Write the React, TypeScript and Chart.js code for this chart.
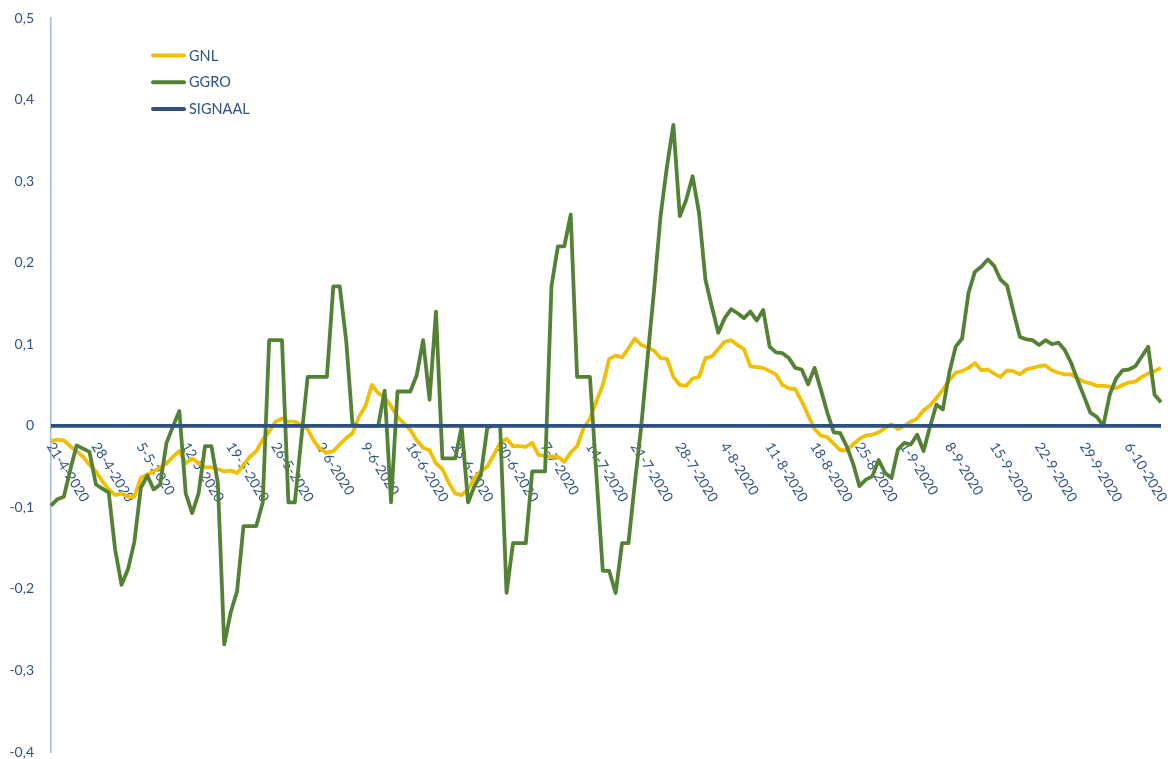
import React, { useEffect, useRef } from "react";
import { Chart, registerables } from "chart.js";

Chart.register(...registerables);

// ---- Data ----
const START_DATE = [2020, 4, 21]; // year, month, day
const DAY_COUNT = 174;

function buildDates(): string[] {
  const out: string[] = [];
  const base = Date.UTC(START_DATE[0], START_DATE[1] - 1, START_DATE[2]);
  for (let i = 0; i < DAY_COUNT; i++) {
    const d = new Date(base + i * 86400000);
    out.push(`${d.getUTCDate()}-${d.getUTCMonth() + 1}-${d.getUTCFullYear()}`);
  }
  return out;
}
const DATES = buildDates();

const TICK_LABELS = [
  "21-4-2020", "28-4-2020", "5-5-2020", "12-5-2020", "19-5-2020", "26-5-2020",
  "2-6-2020", "9-6-2020", "16-6-2020", "23-6-2020", "30-6-2020", "7-7-2020",
  "14-7-2020", "21-7-2020", "28-7-2020", "4-8-2020", "11-8-2020", "18-8-2020",
  "25-8-2020", "1-9-2020", "8-9-2020", "15-9-2020", "22-9-2020", "29-9-2020",
  "6-10-2020",
];

const GNL = [
  -0.019, -0.017, -0.018, -0.025, -0.031, -0.038, -0.048, -0.056, -0.068, -0.078,
  -0.085, -0.083, -0.087, -0.087, -0.064, -0.060, -0.056, -0.051, -0.046, -0.038,
  -0.031, -0.046, -0.040, -0.046, -0.051, -0.051, -0.053, -0.056, -0.055, -0.058,
  -0.048, -0.038, -0.031, -0.017, -0.007, 0.005, 0.009, 0.005, 0.005, 0.001,
  -0.004, -0.019, -0.029, -0.033, -0.031, -0.023, -0.015, -0.009, 0.011, 0.024,
  0.050, 0.040, 0.035, 0.024, 0.011, 0.003, -0.005, -0.018, -0.027, -0.030,
  -0.046, -0.053, -0.070, -0.083, -0.085, -0.078, -0.064, -0.056, -0.050, -0.036,
  -0.021, -0.016, -0.025, -0.025, -0.026, -0.021, -0.036, -0.037, -0.038, -0.038,
  -0.044, -0.033, -0.025, -0.003, 0.009, 0.030, 0.050, 0.082, 0.086, 0.084,
  0.095, 0.107, 0.099, 0.096, 0.092, 0.083, 0.082, 0.060, 0.050, 0.049,
  0.058, 0.060, 0.083, 0.085, 0.094, 0.103, 0.105, 0.099, 0.094, 0.073,
  0.072, 0.071, 0.067, 0.063, 0.050, 0.046, 0.045, 0.030, 0.013, -0.004,
  -0.012, -0.014, -0.022, -0.030, -0.030, -0.023, -0.016, -0.012, -0.011, -0.008,
  -0.003, 0.002, -0.004, 0.000, 0.005, 0.009, 0.019, 0.025, 0.034, 0.044,
  0.056, 0.065, 0.067, 0.071, 0.077, 0.068, 0.069, 0.064, 0.060, 0.068,
  0.067, 0.063, 0.069, 0.071, 0.073, 0.074, 0.068, 0.065, 0.063, 0.063,
  0.058, 0.054, 0.052, 0.049, 0.049, 0.048, 0.046, 0.050, 0.053, 0.054,
  0.060, 0.064, 0.067, 0.071,
];

const GGRO = [
  -0.098, -0.090, -0.087, -0.054, -0.024, -0.028, -0.032, -0.072, -0.077, -0.082,
  -0.152, -0.195, -0.176, -0.142, -0.076, -0.061, -0.078, -0.072, -0.021, -0.001,
  0.018, -0.083, -0.107, -0.083, -0.025, -0.025, -0.070, -0.268, -0.229, -0.203,
  -0.123, -0.123, -0.123, -0.094, 0.105, 0.105, 0.105, -0.094, -0.094, -0.017,
  0.060, 0.060, 0.060, 0.060, 0.171, 0.171, 0.105, 0.001, 0.000, 0.000,
  0.000, 0.000, 0.043, -0.094, 0.042, 0.042, 0.042, 0.062, 0.105, 0.032,
  0.140, -0.040, -0.040, -0.040, -0.001, -0.094, -0.074, -0.060, -0.002, 0.000,
  0.000, -0.205, -0.144, -0.144, -0.144, -0.056, -0.056, -0.056, 0.171, 0.220,
  0.220, 0.259, 0.060, 0.060, 0.060, -0.060, -0.178, -0.178, -0.205, -0.144,
  -0.144, -0.070, 0.000, 0.085, 0.167, 0.257, 0.318, 0.369, 0.257, 0.277,
  0.306, 0.261, 0.179, 0.146, 0.114, 0.132, 0.143, 0.138, 0.132, 0.140,
  0.129, 0.142, 0.097, 0.090, 0.089, 0.083, 0.071, 0.069, 0.051, 0.071,
  0.044, 0.016, -0.008, -0.009, -0.025, -0.046, -0.074, -0.066, -0.062, -0.042,
  -0.058, -0.064, -0.029, -0.021, -0.023, -0.011, -0.031, -0.001, 0.026, 0.020,
  0.065, 0.097, 0.107, 0.163, 0.189, 0.195, 0.204, 0.196, 0.179, 0.172,
  0.140, 0.109, 0.106, 0.105, 0.099, 0.105, 0.100, 0.102, 0.093, 0.077,
  0.056, 0.036, 0.016, 0.011, 0.000, 0.038, 0.058, 0.068, 0.069, 0.073,
  0.085, 0.097, 0.038, 0.029,
];

const SIGNAAL_LEVEL = 0;
const SIGNAAL = DATES.map(() => SIGNAAL_LEVEL);

const SERIES_NAMES = ["GNL", "GGRO", "SIGNAAL"];
const Y_MIN = -0.4;
const Y_MAX = 0.5;
const Y_STEP = 0.1;

// ---- Style ----
const COLORS = {
  gnl: "#F0BF00",
  ggro: "#548235",
  signaal: "#2E5080",
  text: "#2F5282",
  axis: "#A6B8CF",
};
const FONT = "Lato, 'Open Sans', sans-serif";
const LABEL_ANGLE = (58 * Math.PI) / 180;

function fmtTick(v: number): string {
  const r = Math.round(v * 10) / 10;
  if (r === 0) return "0";
  return String(r).replace(".", ",");
}

const xLabelPlugin = {
  id: "xLabelPlugin",
  beforeDatasetsDraw(chart: any) {
    const { ctx, scales } = chart;
    const xs = scales.x;
    const y0 = scales.y.getPixelForValue(0);
    ctx.save();
    ctx.font = `14px ${FONT}`;
    ctx.fillStyle = COLORS.text;
    ctx.textAlign = "left";
    ctx.textBaseline = "middle";
    TICK_LABELS.forEach((lbl) => {
      const idx = DATES.indexOf(lbl);
      if (idx < 0) return;
      const px = xs.getPixelForValue(idx);
      ctx.save();
      ctx.translate(px - 1, y0 + 18);
      ctx.rotate(LABEL_ANGLE);
      ctx.fillText(lbl, 0, 0);
      ctx.restore();
    });
    ctx.restore();
  },
};

const legendPlugin = {
  id: "legendPlugin",
  afterDraw(chart: any) {
    const { ctx } = chart;
    const colors = [COLORS.gnl, COLORS.ggro, COLORS.signaal];
    ctx.save();
    ctx.font = `14.5px ${FONT}`;
    ctx.textAlign = "left";
    ctx.textBaseline = "middle";
    SERIES_NAMES.forEach((name, i) => {
      const y = 55.5 + i * 26.8;
      ctx.strokeStyle = colors[i];
      ctx.lineWidth = 4;
      ctx.lineCap = "round";
      ctx.beginPath();
      ctx.moveTo(153, y);
      ctx.lineTo(184, y);
      ctx.stroke();
      ctx.fillStyle = COLORS.text;
      ctx.fillText(name, 189, y + 0.5);
    });
    ctx.restore();
  },
};

export default function App() {
  const canvasRef = useRef<HTMLCanvasElement | null>(null);

  useEffect(() => {
    if (!canvasRef.current) return;
    const chart = new Chart(canvasRef.current, {
      type: "line",
      data: {
        labels: DATES,
        datasets: [
          {
            label: SERIES_NAMES[0],
            data: GNL,
            borderColor: COLORS.gnl,
            borderWidth: 3.8,
            order: 2,
          },
          {
            label: SERIES_NAMES[1],
            data: GGRO,
            borderColor: COLORS.ggro,
            borderWidth: 3.8,
            order: 1,
          },
          {
            label: SERIES_NAMES[2],
            data: SIGNAAL,
            borderColor: COLORS.signaal,
            borderWidth: 3.8,
            order: 0,
          },
        ],
      },
      options: {
        animation: false,
        responsive: false,
        maintainAspectRatio: false,
        layout: { padding: { left: 0, right: 7, top: 18, bottom: 7 } },
        plugins: {
          legend: { display: false },
          tooltip: { enabled: false },
        },
        elements: {
          point: { radius: 0, hoverRadius: 0 },
          line: { tension: 0, borderJoinStyle: "round", borderCapStyle: "butt", fill: false },
        },
        scales: {
          x: { type: "category", display: false, offset: false },
          y: {
            min: Y_MIN,
            max: Y_MAX,
            ticks: {
              stepSize: Y_STEP,
              callback: (v: any) => fmtTick(Number(v)),
              color: COLORS.text,
              font: { family: FONT, size: 14 },
              padding: 17,
            },
            grid: { display: false, drawTicks: false },
            border: { display: true, color: COLORS.axis, width: 1.5 },
            afterFit: (s: any) => {
              s.width = 51;
              s.paddingTop = 0;
              s.paddingBottom = 0;
            },
          },
        },
      } as any,
      plugins: [xLabelPlugin, legendPlugin],
    });
    return () => chart.destroy();
  }, []);

  return (
    <div style={{ position: "fixed", left: 0, top: 0, width: 1168, height: 759, background: "#fff" }}>
      <canvas ref={canvasRef} width={1168} height={759} style={{ width: 1168, height: 759 }} />
    </div>
  );
}
